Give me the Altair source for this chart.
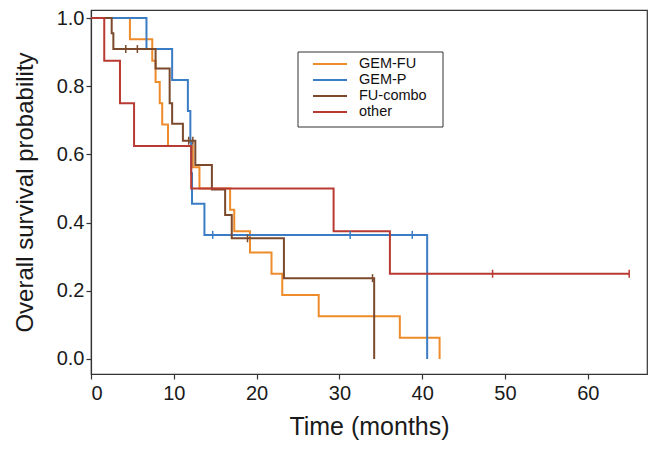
import altair as alt
import pandas as pd

groups = ["GEM-FU", "GEM-P", "FU-combo", "other"]
colors = ["#EE8B2B", "#3B7DC4", "#7B4A2D", "#B93A32"]

gemfu_t = [0, 4.7, 7.4, 7.8, 8.3, 8.6, 9.3, 12.3, 13.1, 16.8, 17.3, 19.2, 21.8, 23.1, 27.5, 37.3, 42.1]
gemfu_s = [1.0, 0.9375, 0.875, 0.8125, 0.75, 0.6875, 0.625, 0.5625, 0.5, 0.4375, 0.375, 0.3125, 0.25, 0.1875, 0.125, 0.0625, 0.0]
gemfu_cens_t = []
gemfu_cens_s = []

gemp_t = [0, 6.7, 9.8, 11.7, 12.0, 12.1, 12.2, 13.7, 40.6]
gemp_s = [1.0, 0.909, 0.818, 0.727, 0.636, 0.545, 0.455, 0.364, 0.0]
gemp_cens_t = [14.7, 31.3, 38.8]
gemp_cens_s = [0.364, 0.364, 0.364]

fucombo_t = [0, 2.5, 2.7, 7.8, 9.5, 9.8, 11.1, 12.6, 14.6, 16.2, 17.0, 23.3, 34.2]
fucombo_s = [1.0, 0.955, 0.909, 0.852, 0.75, 0.69, 0.64, 0.569, 0.497, 0.422, 0.354, 0.237, 0.0]
fucombo_cens_t = [4.2, 5.6, 11.8, 12.3, 18.9, 34.0]
fucombo_cens_s = [0.909, 0.909, 0.64, 0.64, 0.354, 0.237]

other_t = [0, 1.6, 3.5, 5.2, 12.1, 29.3, 36.1, 65.0]
other_s = [1.0, 0.875, 0.75, 0.625, 0.5, 0.375, 0.25, 0.25]
other_cens_t = [48.5, 65.0]
other_cens_s = [0.25, 0.25]

x_ticks = [0, 10, 20, 30, 40, 50, 60]
y_ticks = [0.0, 0.2, 0.4, 0.6, 0.8, 1.0]

curves = {
    "GEM-FU": (gemfu_t, gemfu_s, gemfu_cens_t, gemfu_cens_s),
    "GEM-P": (gemp_t, gemp_s, gemp_cens_t, gemp_cens_s),
    "FU-combo": (fucombo_t, fucombo_s, fucombo_cens_t, fucombo_cens_s),
    "other": (other_t, other_s, other_cens_t, other_cens_s),
}

rows, crows = [], []
for g, (t, s, ct, cs) in curves.items():
    for i, (a, b) in enumerate(zip(t, s)):
        rows.append({"group": g, "t": a, "s": b, "seq": i})
    for a, b in zip(ct, cs):
        crows.append({"group": g, "t": a, "s": b})
df = pd.DataFrame(rows)
cdf = pd.DataFrame(crows)
ldf = pd.DataFrame({"group": groups, "idx": list(range(len(groups)))})

FONT = "Liberation Sans"
color = alt.Color("group:N", scale=alt.Scale(domain=groups, range=colors), legend=None)
xscale = alt.Scale(domain=[0, 67.15], nice=False, zero=False)
yscale = alt.Scale(domain=[-0.044, 1.0235], nice=False, zero=False)

lines = alt.Chart(df).mark_line(interpolate="step-after", strokeWidth=2).encode(
    x=alt.X("t:Q", scale=xscale, axis=alt.Axis(values=x_ticks, title="Time (months)", grid=False,
            tickSize=5, labelPadding=4, titlePadding=11, labelFontSize=20, titleFontSize=25)),
    y=alt.Y("s:Q", scale=yscale, axis=alt.Axis(values=y_ticks, format=".1f", title="Overall survival probability",
            grid=False, tickSize=5, labelPadding=2, titlePadding=19, labelFontSize=20, titleFontSize=24)),
    color=color,
    order=alt.Order("seq:Q"),
)

cens = alt.Chart(cdf).mark_point(shape="M0,-1V1", size=64, filled=False, strokeWidth=1.5, opacity=1).encode(
    x=alt.X("t:Q", scale=xscale),
    y=alt.Y("s:Q", scale=yscale, axis=None),
    color=color,
)

lscale = alt.Scale(domain=[0, 3], range=[54, 102])
box = alt.Chart(pd.DataFrame({"a": [0]})).mark_rect(fill="white", stroke="#333", strokeWidth=1).encode(
    x=alt.value(207), x2=alt.value(352), y=alt.value(42), y2=alt.value(117)
)
lrules = alt.Chart(ldf).mark_rule(strokeWidth=2).encode(
    x=alt.value(222), x2=alt.value(256),
    y=alt.Y("idx:Q", scale=lscale, axis=None),
    color=color,
)
ltext = alt.Chart(ldf).mark_text(align="left", baseline="middle", fontSize=14.5, font=FONT, color="#111").encode(
    x=alt.value(268),
    y=alt.Y("idx:Q", scale=lscale, axis=None),
    text="group:N",
)

chart = alt.layer(lines, cens, box, lrules, ltext).resolve_scale(y="independent").properties(
    width=556, height=364,
    autosize=alt.AutoSizeParams(type="none"),
    padding={"left": 83, "top": 2, "right": 1, "bottom": 66},
).configure_view(stroke="#333", strokeWidth=1.2).configure_axis(
    domainColor="#333", tickColor="#333", labelColor="#1a1a1a", titleColor="#1a1a1a",
    labelFont=FONT, titleFont=FONT, titleFontWeight="normal", domainWidth=1.2, tickWidth=1.2,
)

chart.save("out.html", embed_options={"renderer": "svg", "actions": False})
